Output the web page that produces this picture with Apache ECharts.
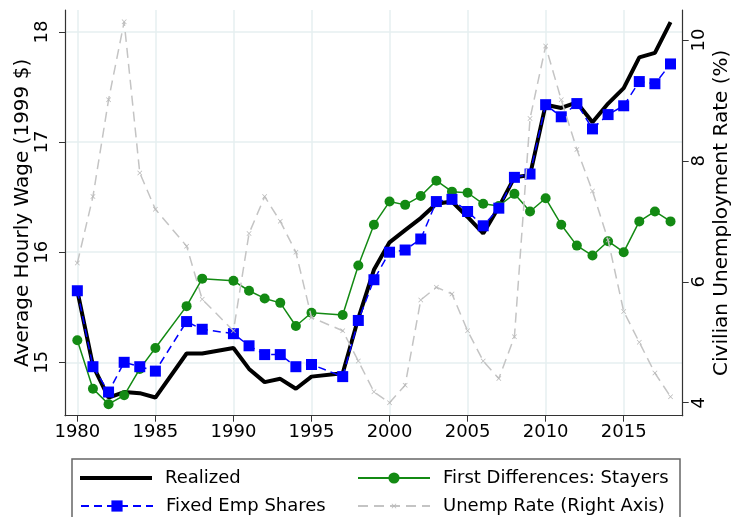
<!DOCTYPE html>
<html><head><meta charset="utf-8">
<script src="https://cdn.jsdelivr.net/npm/echarts@6/dist/echarts.min.js"></script>
<style>html,body{margin:0;padding:0;background:#fff}#c{width:733px;height:517px}</style>
</head><body><div id="c"></div>
<script>
const years = [1980,1981,1982,1983,1984,1985,1986,1987,1988,1989,1990,1991,1992,1993,1994,1995,1996,1997,1998,1999,2000,2001,2002,2003,2004,2005,2006,2007,2008,2009,2010,2011,2012,2013,2014,2015,2016,2017,2018];
const realized = [15.65,14.97,14.68,14.73,14.72,14.68,null,15.08,15.08,null,15.13,14.94,14.82,14.85,14.76,14.87,null,14.90,15.40,15.84,16.09,16.20,16.31,16.44,16.46,16.32,16.17,16.41,16.68,16.70,17.34,17.31,17.36,17.18,17.35,17.49,17.77,17.81,18.09];
const fixedShares = [15.65,14.96,14.73,15.00,14.96,14.92,null,15.37,15.30,null,15.26,15.15,15.07,15.07,14.96,14.98,null,14.87,15.38,15.75,16.00,16.02,16.12,16.46,16.48,16.37,16.24,16.40,16.68,16.71,17.34,17.23,17.35,17.12,17.25,17.33,17.55,17.53,17.71];
const stayers = [15.20,14.76,14.62,14.70,14.94,15.13,null,15.51,15.76,null,15.74,15.65,15.58,15.54,15.33,15.45,null,15.43,15.88,16.25,16.46,16.43,16.51,16.65,16.55,16.54,16.44,16.42,16.53,16.37,16.49,16.25,16.06,15.97,16.10,16.00,16.28,16.37,16.28];
const unemp = [6.31,7.41,9.01,10.30,7.80,7.20,null,6.59,5.71,null,5.19,6.80,7.41,7.00,6.49,5.41,null,5.19,4.69,4.18,4.00,4.29,5.70,5.91,5.80,5.19,4.69,4.40,5.09,8.70,9.90,9.01,8.19,7.50,6.69,5.51,5.00,4.49,4.10];
const xTicks = [1980,1985,1990,1995,2000,2005,2010,2015];
const wageTicks = [15,16,17,18];
const unempTicks = [4,6,8,10];
const names = ['Realized','Fixed Emp Shares','First Differences: Stayers','Unemp Rate (Right Axis)'];

const pairs = v => years.map((y,i)=>[y,v[i]]).filter(d=>d[1]!=null);
const FONT = 'DejaVu Sans';
const crossPath = 'path://M0,1L1,0L5,4L9,0L10,1L6,5L10,9L9,10L5,6L1,10L0,9L4,5Z';
const axisCol = '#333';
const gridCol = '#e6eff1';

const chart = echarts.init(document.getElementById('c'), null, {renderer:'canvas'});
const legendBase = (item, left, top, h) => ({
  data:[item], orient:'vertical', left:left, top:top, itemWidth:72, itemHeight:h, itemGap:0,
  textStyle:{fontFamily:FONT, fontSize:18, color:'#000', padding:[0,0,0,8]}, padding:0, selectedMode:false
});
chart.setOption({
  animation:false,
  backgroundColor:'#fff',
  textStyle:{fontFamily:FONT},
  grid:{left:65, right:50.3, top:10, bottom:101.3, containLabel:false, outerBoundsMode:'none'},
  legend:[
    legendBase({name:names[0], icon:'rect'}, 80, 469, 4),
    legendBase(names[1], 80, 497, 14),
    legendBase(names[2], 357, 469, 14),
    legendBase(names[3], 357, 497, 6)
  ],
  graphic:[{type:'rect', shape:{x:72, y:459, width:608, height:80}, style:{fill:'none', stroke:'#666', lineWidth:1.5}, silent:true}],
  xAxis:{type:'value', min:1979.21, max:2018.78,
    axisLine:{show:true, lineStyle:{color:axisCol, width:1.2}},
    axisTick:{show:true, length:6, lineStyle:{color:axisCol}, customValues:xTicks},
    axisLabel:{customValues:xTicks, formatter:v=>String(v), fontFamily:FONT, fontSize:18, color:'#000', margin:8},
    splitLine:{show:false}},
  yAxis:[
    {type:'value', position:'left', min:14.515, max:18.2,
     name:'Average Hourly Wage (1999 $)', nameLocation:'middle', nameRotate:90, nameGap:32, nameMoveOverlap:false,
     nameTextStyle:{fontFamily:FONT, fontSize:20, color:'#000'},
     axisLine:{show:true, lineStyle:{color:axisCol, width:1.2}},
     axisTick:{show:true, length:6, lineStyle:{color:axisCol}, customValues:wageTicks},
     axisLabel:{customValues:wageTicks, formatter:v=>String(v), rotate:90, fontFamily:FONT, fontSize:18, color:'#000', margin:14},
     splitLine:{show:false}},
    {type:'value', position:'right', min:3.785, max:10.496,
     name:'Civilian Unemployment Rate (%)', nameLocation:'middle', nameRotate:90, nameGap:29, nameMoveOverlap:false,
     nameTextStyle:{fontFamily:FONT, fontSize:20, color:'#000'},
     axisLine:{show:true, lineStyle:{color:axisCol, width:1.2}},
     axisTick:{show:true, length:6, lineStyle:{color:axisCol}, customValues:unempTicks},
     axisLabel:{customValues:unempTicks, formatter:v=>String(v), rotate:90, fontFamily:FONT, fontSize:18, color:'#000', margin:8},
     splitLine:{show:false}}
  ],
  series:[
    {type:'line', name:'grid', data:[], yAxisIndex:0, z:0, silent:true,
     markLine:{silent:true, symbol:'none', z:0, label:{show:false},
       lineStyle:{color:gridCol, width:1.5, type:'solid'},
       emphasis:{disabled:true},
       data:[...xTicks.map(v=>({xAxis:v})), ...wageTicks.map(v=>({yAxis:v}))]}},
    {type:'line', name:names[0], data:pairs(realized), yAxisIndex:0, symbol:'none', z:2,
     lineStyle:{color:'#000', width:4}, itemStyle:{color:'#000'}},
    {type:'line', name:names[2], data:pairs(stayers), yAxisIndex:0, symbol:'circle', symbolSize:10, z:3,
     lineStyle:{color:'#138a13', width:1.5}, itemStyle:{color:'#138a13'}},
    {type:'line', name:names[1], data:pairs(fixedShares), yAxisIndex:0, symbol:'rect', symbolSize:11, z:4,
     lineStyle:{color:'#0000ff', width:1.5, type:[8,5]}, itemStyle:{color:'#0000ff'}},
    {type:'line', name:names[3], data:pairs(unemp), yAxisIndex:1, symbol:crossPath, symbolSize:5, z:5,
     lineStyle:{color:'#c4c4c4', width:1.5, type:[10,6]}, itemStyle:{color:'#b8b8b8'}}
  ]
});
</script></body></html>
